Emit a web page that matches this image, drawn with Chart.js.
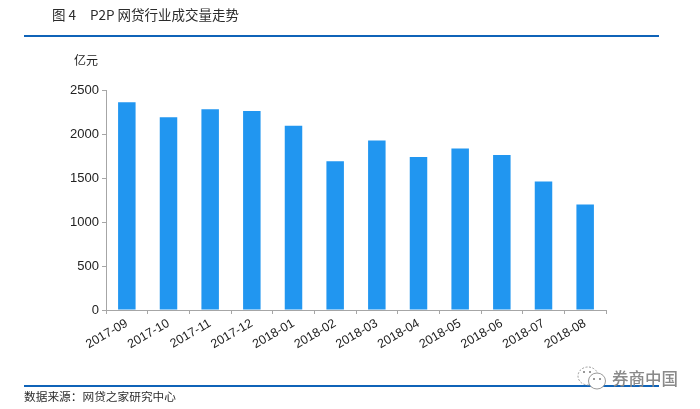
<!DOCTYPE html>
<html>
<head>
<meta charset="utf-8">
<script src="https://cdn.jsdelivr.net/npm/chart.js@4/dist/chart.umd.min.js"></script>
<style>
    html, body { margin: 0; padding: 0; background: #fff; }
    body { position: relative; width: 700px; height: 409px; overflow: hidden; font-family: "Noto Sans CJK SC", sans-serif; color: #2b2b2b; }
    canvas { position: absolute; left: 0; top: 0; }
    .text { position: absolute; white-space: pre; line-height: 1; }
    .rule { position: absolute; left: 24px; width: 635px; background: #0f63b8; }
</style>
</head>
<body>
<canvas id="myChart" width="700" height="409"></canvas>
<div class="text" style="left:52px;top:8px;font-size:13.5px;">图 4</div>
<div class="text" style="left:90px;top:8px;font-size:13.5px;">P2P 网贷行业成交量走势</div>
<div class="rule" style="top:35px;height:2px;"></div>
<div class="text" style="left:74px;top:54px;font-size:12px;color:#222;">亿元</div>
<div class="rule" style="top:385px;height:2px;"></div>
<div class="text" style="left:24px;top:390px;font-size:11.7px;">数据来源：网贷之家研究中心</div>
<svg style="position:absolute;left:577px;top:366px;" width="30" height="26">
    <ellipse cx="11" cy="10" rx="10" ry="9" fill="#fff" stroke="#999" stroke-width="1" stroke-dasharray="2 1.5"/>
    <ellipse cx="20" cy="15" rx="8.5" ry="8" fill="#fff" stroke="#999" stroke-width="1"/>
    <circle cx="7" cy="6" r="1" fill="#777"/>
    <circle cx="13" cy="6" r="1" fill="#777"/>
    <circle cx="17" cy="13" r="1" fill="#777"/>
    <circle cx="23" cy="13" r="1" fill="#777"/>
</svg>
<div class="text" style="left:612px;top:370px;font-size:16.5px;color:#8a8a8a;font-weight:500;">券商中国</div>
<script>
    const categories = ["2017-09", "2017-10", "2017-11", "2017-12", "2018-01", "2018-02", "2018-03", "2018-04", "2018-05", "2018-06", "2018-07", "2018-08"];
    const volumes = [2360, 2190, 2280, 2260, 2095, 1690, 1925, 1740, 1835, 1760, 1460, 1200];
    const yTicks = [0, 500, 1000, 1500, 2000, 2500];

    const axisColor = "#a6a6a6";

    new Chart(document.getElementById("myChart").getContext("2d"), {
        type: "bar",
        data: {
            labels: categories,
            datasets: [{
                data: volumes,
                backgroundColor: "#2196f0",
                barPercentage: 0.42,
                categoryPercentage: 1
            }]
        },
        options: {
            responsive: false,
            animation: false,
            layout: { padding: { left: 0, right: 94, top: 90, bottom: 0 } },
            plugins: { legend: { display: false }, tooltip: { enabled: false } },
            scales: {
                x: {
                    afterFit(axis) { axis.height = 99; },
                    border: { color: axisColor, width: 1 },
                    grid: { drawOnChartArea: false, color: axisColor, tickLength: 4 },
                    ticks: { color: "#222", font: { family: "Liberation Sans", size: 12.5 }, minRotation: 30, maxRotation: 30, padding: 2, autoSkip: false }
                },
                y: {
                    min: 0,
                    max: 2500,
                    afterFit(axis) { axis.width = 106; },
                    afterBuildTicks(axis) { axis.ticks = yTicks.map(v => ({ value: v })); },
                    border: { color: axisColor, width: 1 },
                    grid: { drawOnChartArea: false, color: axisColor, tickLength: 4 },
                    ticks: { color: "#222", font: { family: "Liberation Sans", size: 13 }, padding: 3, callback: v => String(v) }
                }
            }
        }
    });
</script>
</body>
</html>
